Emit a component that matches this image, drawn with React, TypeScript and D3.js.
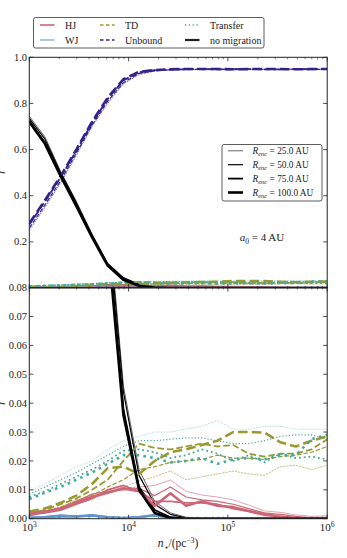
import React from "react";
import * as d3 from "d3";

// grid of stellar densities (pc^-3)
const nStar = [1000, 1438, 2069, 2976, 4281, 6158, 8859, 12743, 18330, 26367, 37927, 54556, 78476, 112884, 162378, 233572, 335982, 483293, 695193, 1000000];

const rEnc = ["25.0", "50.0", "75.0", "100.0"];

const hj = [
  [0.001, 0.002, 0.004, 0.0065, 0.008, 0.009, 0.0105, 0.011, 0.0115, 0.0134, 0.0095, 0.0082, 0.0075, 0.0065, 0.0047, 0.0027, 0.0022, 0.0013, 0.0008, 0.001],
  [0.001, 0.0025, 0.0035, 0.006, 0.0085, 0.0095, 0.01, 0.0105, 0.008, 0.011, 0.0075, 0.0065, 0.006, 0.005, 0.0035, 0.002, 0.0015, 0.0008, 0.0003, 0.0005],
  [0.0015, 0.002, 0.003, 0.005, 0.007, 0.01, 0.0115, 0.0095, 0.006, 0.006, 0.0055, 0.0055, 0.005, 0.0035, 0.0025, 0.0012, 0.0008, 0.0003, 0, 0.0002],
  [0.002, 0.0025, 0.0035, 0.0055, 0.0075, 0.009, 0.0105, 0.0095, 0.0045, 0.0088, 0.0045, 0.006, 0.0045, 0.004, 0.0027, 0.0016, 0.0007, 0.0002, 0, 0],
];
const wj = [
  [0.0002, 0.0004, 0.0008, 0.0006, 0.001, 0.0004, 0.0002, 0.0004, 0.001, 0.0002, 0, 0, 0, 0, 0, 0, 0, 0, 0, 0],
  [0.0003, 0.0005, 0.001, 0.0008, 0.0012, 0.0005, 0.0003, 0.0005, 0.0012, 0.0003, 0, 0, 0, 0, 0, 0, 0, 0, 0, 0],
  [0.0003, 0.0006, 0.0012, 0.0007, 0.0013, 0.0006, 0.0003, 0.0006, 0.0011, 0.0002, 0, 0, 0, 0, 0, 0, 0, 0, 0, 0],
  [0.0004, 0.0005, 0.0009, 0.0008, 0.0011, 0.0005, 0.0002, 0.0005, 0.0013, 0.0003, 0, 0, 0, 0, 0, 0, 0, 0, 0, 0],
];
const td = [
  [0.001, 0.002, 0.003, 0.005, 0.0065, 0.0095, 0.011, 0.013, 0.0145, 0.0165, 0.0135, 0.0145, 0.0155, 0.0165, 0.0155, 0.015, 0.018, 0.0185, 0.017, 0.0185],
  [0.0015, 0.0025, 0.004, 0.006, 0.008, 0.011, 0.0135, 0.017, 0.018, 0.0195, 0.02, 0.0205, 0.022, 0.021, 0.021, 0.0205, 0.0215, 0.022, 0.023, 0.025],
  [0.002, 0.003, 0.005, 0.007, 0.01, 0.0135, 0.02, 0.026, 0.0245, 0.024, 0.025, 0.026, 0.025, 0.0255, 0.0225, 0.0215, 0.0225, 0.0225, 0.024, 0.0275],
  [0.0025, 0.0035, 0.0055, 0.008, 0.012, 0.0175, 0.018, 0.0155, 0.02, 0.023, 0.024, 0.0255, 0.027, 0.03, 0.03, 0.0298, 0.0265, 0.025, 0.027, 0.0285],
];
const transfer = [
  [0.0095, 0.012, 0.015, 0.018, 0.02, 0.024, 0.027, 0.0285, 0.03, 0.03, 0.031, 0.032, 0.034, 0.031, 0.031, 0.032, 0.032, 0.031, 0.031, 0.031],
  [0.0085, 0.011, 0.0135, 0.016, 0.019, 0.022, 0.025, 0.027, 0.027, 0.0275, 0.028, 0.028, 0.027, 0.026, 0.026, 0.027, 0.0285, 0.029, 0.029, 0.0275],
  [0.0075, 0.0095, 0.012, 0.0145, 0.017, 0.02, 0.0235, 0.024, 0.023, 0.021, 0.022, 0.024, 0.0225, 0.02, 0.022, 0.0195, 0.0225, 0.021, 0.0215, 0.0205],
  [0.0068, 0.009, 0.011, 0.0135, 0.016, 0.019, 0.022, 0.022, 0.021, 0.0195, 0.02, 0.021, 0.019, 0.0205, 0.021, 0.0205, 0.022, 0.022, 0.0275, 0.029],
];
const unbound = [
  [0.25, 0.35, 0.455, 0.575, 0.7, 0.8, 0.885, 0.925, 0.94, 0.945, 0.947, 0.948, 0.947, 0.948, 0.948, 0.947, 0.948, 0.948, 0.947, 0.948],
  [0.26, 0.36, 0.465, 0.585, 0.705, 0.81, 0.89, 0.93, 0.942, 0.946, 0.948, 0.947, 0.948, 0.949, 0.948, 0.948, 0.947, 0.948, 0.948, 0.948],
  [0.275, 0.375, 0.48, 0.595, 0.715, 0.82, 0.9, 0.935, 0.944, 0.947, 0.948, 0.949, 0.948, 0.948, 0.949, 0.948, 0.948, 0.949, 0.948, 0.949],
  [0.28, 0.38, 0.485, 0.6, 0.72, 0.825, 0.905, 0.937, 0.945, 0.948, 0.949, 0.949, 0.949, 0.948, 0.949, 0.949, 0.949, 0.948, 0.949, 0.949],
];
const noMigration = [
  [0.745, 0.655, 0.505, 0.375, 0.235, 0.108, 0.046, 0.017, 0.006, 0.002, 0.0005, 0, 0, 0, 0, 0, 0, 0, 0, 0],
  [0.735, 0.645, 0.5, 0.37, 0.23, 0.105, 0.044, 0.015, 0.005, 0.0015, 0.0003, 0, 0, 0, 0, 0, 0, 0, 0, 0],
  [0.725, 0.63, 0.49, 0.36, 0.225, 0.1, 0.038, 0.011, 0.003, 0.0005, 0, 0, 0, 0, 0, 0, 0, 0, 0, 0],
  [0.72, 0.625, 0.485, 0.355, 0.22, 0.097, 0.036, 0.01, 0.002, 0.0003, 0, 0, 0, 0, 0, 0, 0, 0, 0, 0],
];

const topTicks = [0.2, 0.4, 0.6, 0.8, 1.0];
const botTicks = [0, 0.01, 0.02, 0.03, 0.04, 0.05, 0.06, 0.07, 0.08];
const xMajor = [1e3, 1e4, 1e5, 1e6];
const xExp = ["3", "4", "5", "6"];

const widths = [0.6, 1.2, 1.8, 2.6];

const C = {
  hj: "#CC6677",
  wj: "#5f95cf",
  td: "#999933",
  tr: "#44AA99",
  ub: "#332288",
  nm: "#000000",
};

type Style = "solid" | "dashed" | "dotted";
const dash = (s: Style, lw: number) =>
  s === "dashed" ? `${3.7 * lw} ${1.6 * lw}` : s === "dotted" ? `${1 * lw} ${1.65 * lw}` : undefined;

const series: { key: string; data: number[][]; color: string; style: Style }[] = [
  { key: "hj", data: hj, color: C.hj, style: "solid" },
  { key: "wj", data: wj, color: C.wj, style: "solid" },
  { key: "td", data: td, color: C.td, style: "dashed" },
  { key: "tr", data: transfer, color: C.tr, style: "dotted" },
  { key: "ub", data: unbound, color: C.ub, style: "dashed" },
  { key: "nm", data: noMigration, color: C.nm, style: "solid" },
];

const FONT = "'Liberation Serif', 'DejaVu Serif', serif";

export default function App() {
  const W = 347, H = 558;
  const L = 29.3, R = 327.2;
  const x = d3.scaleLog().domain([1e3, 1e6]).range([L, R]);
  const yT = d3.scaleLinear().domain([0, 1]).range([288, 57.3]);
  const yB = d3.scaleLinear().domain([0, 0.08]).range([518.7, 287.6]);

  const minor: number[] = [];
  for (let e = 3; e < 6; e++) for (let m = 2; m <= 9; m++) minor.push(m * 10 ** e);

  const drawLines = (y: d3.ScaleLinear<number, number>) =>
    rEnc.map((_, ri) =>
      series.map((s) => {
        const line = d3
          .line<number>()
          .x((_, i) => x(nStar[i]))
          .y((d) => y(d));
        const lw = widths[ri];
        return (
          <path
            key={s.key + ri}
            d={line(s.data[ri]) || ""}
            fill="none"
            stroke={s.color}
            strokeWidth={lw}
            strokeDasharray={dash(s.style, lw)}
            strokeLinejoin="round"
          />
        );
      })
    );

  const panel = (y: d3.ScaleLinear<number, number>, top: number, bottom: number, ticks: number[], fmt: (v: number) => string, id: string) => (
    <g>
      <clipPath id={id}>
        <rect x={L} y={top} width={R - L} height={bottom - top} />
      </clipPath>
      <g clipPath={`url(#${id})`}>{drawLines(y)}</g>
      {/* x ticks, top and bottom */}
      {xMajor.map((v) => (
        <g key={"M" + v}>
          <line x1={x(v)} x2={x(v)} y1={bottom} y2={bottom - 4} stroke="#222" strokeWidth={0.8} />
          <line x1={x(v)} x2={x(v)} y1={top} y2={top + 4} stroke="#222" strokeWidth={0.8} />
        </g>
      ))}
      {minor.map((v) => (
        <g key={"m" + v}>
          <line x1={x(v)} x2={x(v)} y1={bottom} y2={bottom - 2} stroke="#222" strokeWidth={0.6} />
          <line x1={x(v)} x2={x(v)} y1={top} y2={top + 2} stroke="#222" strokeWidth={0.6} />
        </g>
      ))}
      {ticks.map((v) => (
        <g key={"y" + v}>
          <line x1={L} x2={L + 4} y1={y(v)} y2={y(v)} stroke="#222" strokeWidth={0.8} />
          <line x1={R} x2={R - 4} y1={y(v)} y2={y(v)} stroke="#222" strokeWidth={0.8} />
          <text x={27} y={y(v) + 3.6} textAnchor="end" fontSize={10.5} fontFamily={FONT} fill="#222">
            {fmt(v)}
          </text>
        </g>
      ))}
      <rect x={L} y={top} width={R - L} height={bottom - top} fill="none" stroke="#222" strokeWidth={1} />
    </g>
  );

  const legendTop = [
    { label: "HJ", color: C.hj, style: "solid" as Style, x: 40, y: 25 },
    { label: "WJ", color: "#8fbbe2", style: "solid" as Style, x: 40, y: 40 },
    { label: "TD", color: C.td, style: "dashed" as Style, x: 100, y: 25 },
    { label: "Unbound", color: C.ub, style: "dashed" as Style, x: 100, y: 40 },
    { label: "Transfer", color: C.tr, style: "dotted" as Style, x: 185, y: 25 },
    { label: "no migration", color: "#222", style: "solid" as Style, x: 185, y: 40 },
  ];

  return (
    <svg width={W} height={H} style={{ position: "absolute", left: 0, top: 0, background: "#fff" }}>
      <rect width={W} height={H} fill="#fff" />
      {panel(yT, 57.3, 288, topTicks, d3.format(".1f"), "clipTop")}
      {panel(yB, 287.6, 518.7, botTicks, d3.format(".2f"), "clipBot")}

      {/* x tick labels */}
      {xMajor.map((v, i) => (
        <text key={"xl" + v} x={x(v)} y={531} textAnchor="middle" fontSize={11} fontFamily={FONT} fill="#222">
          10
          <tspan dy={-4.5} fontSize={7.5}>
            {xExp[i]}
          </tspan>
        </text>
      ))}
      <text x={178} y={547} textAnchor="middle" fontSize={11.5} fontFamily={FONT} fill="#222">
        <tspan fontStyle="italic">n</tspan>
        <tspan dy={2.5} fontSize={8}>⋆</tspan>
        <tspan dy={-2.5}>/(pc</tspan>
        <tspan dy={-4.5} fontSize={7.5}>−3</tspan>
        <tspan dy={4.5}>)</tspan>
      </text>

      {/* y labels (mostly clipped) */}
      <text transform="translate(3,172) rotate(-90)" textAnchor="middle" fontSize={11} fontStyle="italic" fontFamily={FONT} fill="#222">f</text>
      <text transform="translate(3,403) rotate(-90)" textAnchor="middle" fontSize={11} fontStyle="italic" fontFamily={FONT} fill="#222">f</text>

      {/* top legend */}
      <rect x={33.5} y={17.5} width={230.5} height={30.5} rx={2} fill="#fff" stroke="#333" strokeWidth={0.8} />
      {legendTop.map((e) => (
        <g key={e.label}>
          <line
            x1={e.x}
            x2={e.x + 14.5}
            y1={e.y}
            y2={e.y}
            stroke={e.color}
            strokeWidth={e.label === "no migration" ? 2.2 : 1.6}
            strokeDasharray={e.style === "dashed" ? "3.5 2.5" : e.style === "dotted" ? "1.2 2.6" : undefined}
          />
          <text x={e.x + 25} y={e.y + 3.5} fontSize={10} fontFamily={FONT} fill="#222">
            {e.label}
          </text>
        </g>
      ))}

      {/* R_enc legend */}
      <rect x={222} y={144.5} width={100} height={56.5} rx={2} fill="#fff" stroke="#333" strokeWidth={0.8} />
      {rEnc.map((r, i) => {
        const yy = 150.8 + i * 13.9;
        return (
          <g key={r}>
            <line x1={228} x2={243} y1={yy} y2={yy} stroke="#000" strokeWidth={widths[i]} />
            <text x={252.5} y={yy + 3.3} fontSize={9.3} fontFamily={FONT} fill="#222">
              <tspan fontStyle="italic">R</tspan>
              <tspan dy={2} fontSize={6.5} fontStyle="italic">enc</tspan>
              <tspan dy={-2}> = {r} AU</tspan>
            </text>
          </g>
        );
      })}

      <text x={262} y={241} textAnchor="middle" fontSize={11} fontFamily={FONT} fill="#222">
        <tspan fontStyle="italic">a</tspan>
        <tspan dy={2.5} fontSize={7.5}>0</tspan>
        <tspan dy={-2.5}> = 4 AU</tspan>
      </text>
    </svg>
  );
}
